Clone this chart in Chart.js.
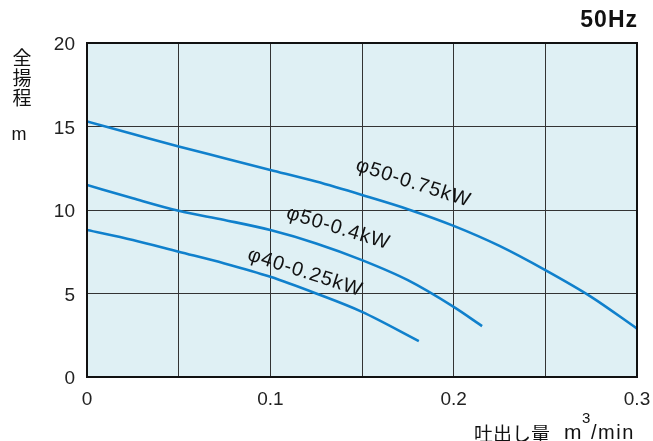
<!DOCTYPE html>
<html>
<head>
<meta charset="utf-8">
<script src="https://cdn.jsdelivr.net/npm/chart.js@4"></script>
<style>
  html, body { margin: 0; padding: 0; background: #fff; }
  #wrap { width: 653px; height: 441px; }
</style>
</head>
<body>
<div id="wrap"><canvas id="c" width="653" height="441"></canvas></div>
<script>
// pump curves
const xLabels = ['0', '0.1', '0.2', '0.3'];
const yLabels = ['0', '5', '10', '15', '20'];

const q075 = [0, 0.025, 0.05, 0.075, 0.1, 0.125, 0.15, 0.175, 0.2, 0.225, 0.25, 0.275, 0.3];
const h075 = [15.3, 14.55, 13.8, 13.1, 12.4, 11.7, 10.9, 10.05, 9.05, 7.85, 6.4, 4.8, 2.9];

const q04 = [0, 0.025, 0.05, 0.075, 0.1, 0.125, 0.15, 0.175, 0.2, 0.2155];
const h04 = [11.5, 10.7, 9.95, 9.4, 8.8, 8.0, 7.0, 5.8, 4.2, 3.05];

const q025 = [0, 0.025, 0.05, 0.075, 0.1, 0.125, 0.15, 0.181];
const h025 = [8.8, 8.2, 7.5, 6.8, 6.0, 5.0, 3.9, 2.15];

const seriesNames = ['φ50-0.75kW', 'φ50-0.4kW', 'φ40-0.25kW'];
// where each name sits (data coords) and its tilt
const labelAt = [[0.178, 11.6, 18], [0.137, 8.9, 17], [0.119, 6.25, 18]];

const toPts = (xs, ys) => xs.map((x, i) => ({ x, y: ys[i] }));
const font = '"Liberation Sans", Arial, sans-serif';
const cjk = '"Noto Sans CJK JP", sans-serif';
const blue = '#1080cc';

const frame = {
  id: 'frame',
  beforeDraw(chart) {
    const { ctx, chartArea: a } = chart;
    ctx.save();
    ctx.fillStyle = '#dff0f4';
    ctx.fillRect(a.left, a.top, a.right - a.left, a.bottom - a.top);
    ctx.restore();
  },
  afterDraw(chart) {
    const { ctx, chartArea: a, scales } = chart;
    ctx.save();
    ctx.strokeStyle = '#111';
    ctx.lineWidth = 2;
    ctx.strokeRect(a.left, a.top, a.right - a.left, a.bottom - a.top);

    // curve names
    ctx.fillStyle = '#111';
    ctx.font = '20px ' + font;
    ctx.letterSpacing = '1px';
    ctx.textAlign = 'center';
    ctx.textBaseline = 'middle';
    labelAt.forEach(([x, y, deg], i) => {
      ctx.save();
      ctx.translate(scales.x.getPixelForValue(x), scales.y.getPixelForValue(y));
      ctx.rotate(deg * Math.PI / 180);
      ctx.fillText(seriesNames[i], 0, 0);
      ctx.restore();
    });
    ctx.letterSpacing = '0px';

    // y title, vertical
    ctx.font = '19px ' + cjk;
    ['全', '揚', '程'].forEach((ch, i) => ctx.fillText(ch, 22, 58 + i * 20));
    ctx.font = '18px ' + font;
    ctx.fillText('m', 19, 135);

    // x title
    ctx.textAlign = 'left';
    ctx.textBaseline = 'alphabetic';
    ctx.font = '21px ' + font;
    ctx.fillText('m', 564, 439);
    ctx.font = '20px ' + font;
    ctx.letterSpacing = '1.5px';
    ctx.fillText('/min', 591, 439);
    ctx.letterSpacing = '0px';
    ctx.font = '15px ' + font;
    ctx.fillText('3', 582, 423);
    ctx.textAlign = 'right';
    ctx.textBaseline = 'middle';
    ctx.font = '19px ' + cjk;
    ctx.fillText('吐出し量', 550, 434);

    // frequency
    ctx.font = 'bold 23px ' + font;
    ctx.letterSpacing = '1px';
    ctx.fillText('50Hz', 638, 21);
    ctx.restore();
  }
};

new Chart(document.getElementById('c'), {
  type: 'scatter',
  data: {
    datasets: [
      { label: seriesNames[0], data: toPts(q075, h075) },
      { label: seriesNames[1], data: toPts(q04, h04) },
      { label: seriesNames[2], data: toPts(q025, h025) },
    ].map(d => ({ showLine: true, borderColor: blue, borderWidth: 2.6, pointRadius: 0, cubicInterpolationMode: 'monotone', ...d })),
  },
  options: {
    responsive: false, animation: false,
    layout: { padding: { top: 43, right: 16, left: 0, bottom: 0 } },
    plugins: { legend: { display: false }, tooltip: { enabled: false } },
    scales: {
      x: {
        type: 'linear', min: 0, max: 0.3,
        afterFit: s => { s.height = 64; s.paddingLeft = 0; s.paddingRight = 0; },
        grid: { color: '#333', lineWidth: 1, drawTicks: false },
        border: { display: false },
        ticks: {
          stepSize: 0.05, padding: 11, color: '#222', font: { family: font, size: 19 },
          maxRotation: 0, autoSkip: false,
          callback: v => { const k = Math.round(v * 100); return k % 10 === 0 ? xLabels[k / 10] : ''; },
        },
      },
      y: {
        min: 0, max: 20,
        afterFit: s => { s.width = 87; s.paddingTop = 0; s.paddingBottom = 0; },
        grid: { color: '#333', lineWidth: 1, drawTicks: false },
        border: { display: false },
        ticks: {
          stepSize: 5, padding: 12, labelOffset: 2, color: '#222', font: { family: font, size: 19 },
          callback: v => yLabels[Math.round(v / 5)],
        },
      },
    },
  },
  plugins: [frame],
});
</script>
</body>
</html>
